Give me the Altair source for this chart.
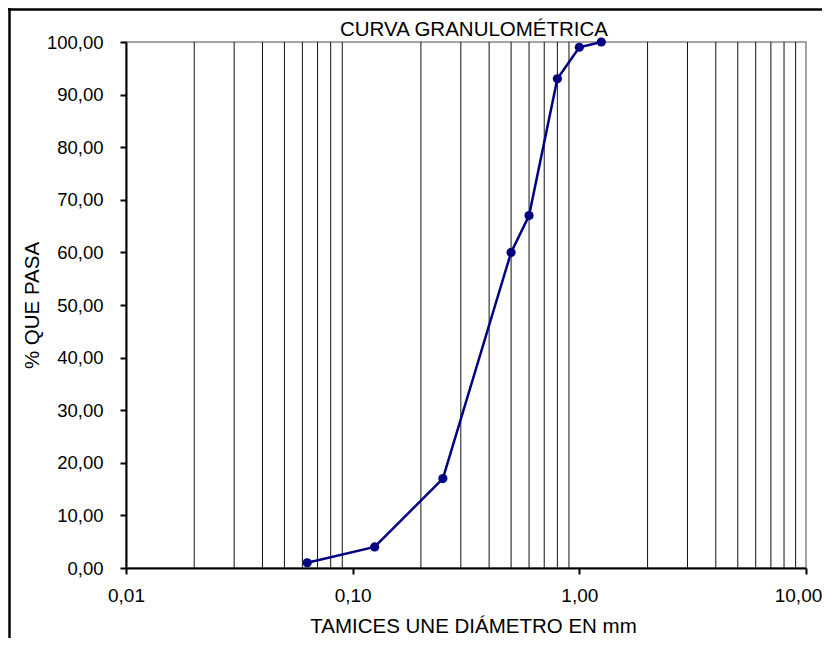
import altair as alt
import pandas as pd

# Data
diametro = [0.063, 0.125, 0.25, 0.5, 0.6, 0.8, 1.0, 1.25]
pasa = [1, 4, 17, 60, 67, 93, 99, 100]

grid_vals = [0.02, 0.03, 0.04, 0.05, 0.06, 0.07, 0.08, 0.09,
             0.2, 0.3, 0.4, 0.5, 0.6, 0.7, 0.8, 0.9,
             2, 3, 4, 5, 6, 7, 8, 9]
x_major = [0.01, 0.1, 1, 10]
y_ticks = [0, 10, 20, 30, 40, 50, 60, 70, 80, 90, 100]

titulo = "CURVA GRANULOMÉTRICA"
x_title = "TAMICES UNE DIÁMETRO EN mm"
y_title = "% QUE PASA"

FONT = "Liberation Sans"
FS = 19
TFS = 20.5
W, H = 680, 526
PAD_R, PAD_B = 16, 70

df = pd.DataFrame({"d": diametro, "p": pasa})
grid_df = pd.DataFrame({"g": grid_vals})

xscale = alt.Scale(type="log", domain=[0.01, 10], nice=False)
yscale = alt.Scale(domain=[0, 100], nice=False)

xaxis = alt.Axis(values=x_major, labelExpr="replace(format(datum.value, '.2f'), '.', ',')",
                 title=x_title, grid=False, domainColor="black", domainWidth=2,
                 tickColor="black", tickWidth=2, tickSize=6, labelPadding=12,
                 labelFont=FONT, labelFontSize=FS, labelColor="black",
                 labelOffset={"condition": {"test": "datum.value >= 10", "value": -8}, "value": 0},
                 titleFont=FONT, titleFontSize=TFS, titleFontWeight="normal", titleColor="black",
                 titleX=347, titleY=64, titleBaseline="alphabetic", titleAlign="center",
                 labelFlush=False)
yaxis = alt.Axis(values=y_ticks, labelExpr="replace(format(datum.value, '.2f'), '.', ',')",
                 title=y_title, grid=False, domainColor="black", domainWidth=2,
                 tickColor="black", tickWidth=2, tickSize=6, labelPadding=17,
                 labelFont=FONT, labelFontSize=18.5, labelColor="black",
                 titleFont=FONT, titleFontSize=TFS, titleFontWeight="normal", titleColor="black",
                 titleX=-88, titleY=H / 2, titleAngle=-90, titleBaseline="alphabetic",
                 titleAlign="center", labelFlush=False)

grid = alt.Chart(grid_df).mark_rule(color="#111111", strokeWidth=1).encode(
    x=alt.X("g:Q", scale=xscale, axis=xaxis),
)

line = alt.Chart(df).mark_line(color="#000080", strokeWidth=2.5).encode(
    x=alt.X("d:Q", scale=xscale, axis=xaxis),
    y=alt.Y("p:Q", scale=yscale, axis=yaxis),
)
pts = alt.Chart(df).mark_circle(color="#000080", size=85, opacity=1).encode(
    x=alt.X("d:Q", scale=xscale),
    y=alt.Y("p:Q", scale=yscale),
)

title_df = pd.DataFrame({"t": [titulo]})
title_mark = alt.Chart(title_df).mark_text(
    font=FONT, fontSize=TFS, color="black", align="center", baseline="alphabetic"
).encode(text="t:N", x=alt.value(348), y=alt.value(-6))

frame_top = alt.Chart(title_df).mark_rule(color="black", strokeWidth=2.5).encode(
    x=alt.value(-118), x2=alt.value(W + PAD_R), y=alt.value(-32.5))
frame_left = alt.Chart(title_df).mark_rule(color="black", strokeWidth=2.5).encode(
    x=alt.value(-116.5), y=alt.value(-34), y2=alt.value(H + PAD_B))

chart = alt.layer(grid, line, pts, title_mark, frame_top, frame_left).properties(
    width=W, height=H,
    autosize=alt.AutoSizeParams(type="none"),
    padding={"left": 118, "top": 34, "right": PAD_R, "bottom": PAD_B},
    background="white",
).configure_view(stroke="#888888", strokeWidth=1.5)

chart.save("out.html", embed_options={"renderer": "svg", "actions": False})
